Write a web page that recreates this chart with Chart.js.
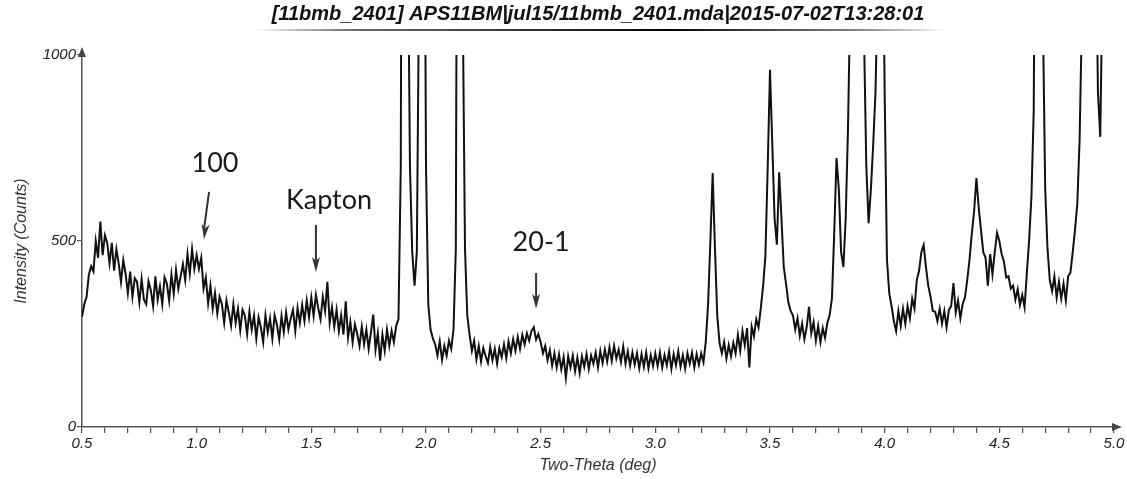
<!DOCTYPE html>
<html>
<head>
<meta charset="utf-8">
<script src="https://cdn.jsdelivr.net/npm/chart.js@4.4.0/dist/chart.umd.min.js"></script>
<style>
  html, body { margin: 0; padding: 0; background: #fff; }
  #wrap { width: 1127px; height: 479px; }
</style>
</head>
<body>
<div id="wrap"><canvas id="xrd" width="1127" height="479"></canvas></div>
<script>
// scan grid (deg two-theta)
const thetaStart = 0.5;
const thetaStep = 0.01;

// counts, one array per half degree
const counts050 = [296,330,350,410,432,418,500,455,552,462, 515,495,440,495,420,478,440,390,448,412,
                   360,418,350,400,390,335,398,342,330,392, 368,325,405,342,378,330,402,385,340,410,
                   358,422,372,405,438,395,465,412,478,425];
const counts100 = [462,425,455,372,402,332,380,318,360,305, 350,330,280,340,308,272,330,280,318,260,
                   315,300,250,310,262,300,238,295,268,228, 300,255,292,238,300,275,235,298,255,308,
                   262,292,315,258,320,280,328,285,340,295];
const counts150 = [348,298,355,320,290,350,312,390,280,322, 270,315,258,300,248,338,240,282,228,276,
                   250,218,270,222,262,210,255,302,208,252, 178,248,205,262,218,258,228,272,290,700,
                   3000,3000,1400,700,470,380,470,1200,3000,2000];
const counts200 = [700,330,262,238,222,192,230,180,218,192, 232,210,262,480,2500,3000,1150,480,300,248,
                   205,232,182,218,176,212,190,172,215,180, 210,170,212,188,222,185,230,198,236,205,
                   242,210,248,222,252,232,258,268,235,250];
const counts250 = [228,198,218,180,206,165,198,160,195,155, 188,132,190,160,192,150,186,145,190,162,
                   196,156,192,170,200,160,204,172,208,176, 214,178,218,184,208,175,216,170,203,165,
                   200,168,198,158,196,162,200,158,193,164];
const counts300 = [198,164,200,160,193,166,203,156,196,166, 203,162,193,157,198,170,200,160,196,167,
                   198,174,230,330,500,683,480,300,225,198, 228,184,220,190,226,198,248,205,258,220,
                   266,160,270,244,290,268,320,380,460,700];
const counts350 = [960,760,560,490,685,560,430,385,335,312, 300,262,292,245,278,236,268,323,252,282,
                   232,272,228,266,240,280,300,345,520,723, 640,470,430,560,800,1150,3000,3000,3000,3000,
                   2000,1050,700,548,640,760,900,1200,3000,1500];
const counts400 = [900,450,360,325,285,258,312,272,318,278, 325,292,345,318,395,420,470,489,430,380,
                   350,312,310,285,318,278,312,268,315,325, 387,308,340,292,330,348,395,450,520,580,
                   669,590,530,470,455,380,465,410,470,522];
const counts450 = [500,465,445,402,405,372,380,342,370,328, 355,322,414,503,620,850,2000,3000,2500,1100,
                   640,480,395,365,405,348,390,345,385,340, 405,415,470,530,600,772,1100,2500,3000,3000,
                   3000,3000,1400,900,780,1200,2500];

const yTicks = [0, 500, 1000];
const noteLabels = ['100', 'Kapton', '20-1'];

const titleText = '[11bmb_2401] APS11BM|jul15/11bmb_2401.mda|2015-07-02T13:28:01';
const xTitle = 'Two-Theta (deg)';
const yTitle = 'Intensity (Counts)';

// where the peak labels sit, in data units
const notes = [
  { text: noteLabels[0], at: [1.08, 710],  from: [1.054, 632], to: [1.032, 505] },
  { text: noteLabels[1], at: [1.577, 610], from: [1.52, 543],  to: [1.52, 417] },
  { text: noteLabels[2], at: [2.502, 497], from: [2.48, 414],  to: [2.48, 318] }
];

const counts = [].concat(counts050, counts100, counts150, counts200, counts250,
                         counts300, counts350, counts400, counts450);
const scan = counts.map((c, i) => ({ x: +(thetaStart + i * thetaStep).toFixed(2), y: c }));

function arrowLine(ctx, x1, y1, x2, y2) {
  ctx.beginPath();
  ctx.moveTo(x1, y1);
  ctx.lineTo(x2, y2 - 10);
  ctx.stroke();
  const ang = Math.atan2(y2 - y1, x2 - x1);
  ctx.beginPath();
  ctx.moveTo(x2, y2);
  ctx.lineTo(x2 - 15 * Math.cos(ang) + 4 * Math.sin(ang), y2 - 15 * Math.sin(ang) - 4 * Math.cos(ang));
  ctx.lineTo(x2 - 11 * Math.cos(ang), y2 - 11 * Math.sin(ang));
  ctx.lineTo(x2 - 15 * Math.cos(ang) - 4 * Math.sin(ang), y2 - 15 * Math.sin(ang) + 4 * Math.cos(ang));
  ctx.closePath();
  ctx.fill();
}

const decor = {
  id: 'decor',
  afterDraw(chart) {
    const ctx = chart.ctx;
    const area = chart.chartArea;
    const xs = chart.scales.x, ys = chart.scales.y;
    const cx = (area.left + area.right) / 2;
    ctx.save();

    // title + fading underline
    ctx.fillStyle = '#111';
    ctx.font = 'italic bold 20px "Liberation Sans", Arial, sans-serif';
    ctx.textAlign = 'center';
    ctx.textBaseline = 'middle';
    ctx.fillText(titleText, cx, 14);
    const g = ctx.createLinearGradient(255, 0, 945, 0);
    g.addColorStop(0, 'rgba(0,0,0,0)');
    g.addColorStop(0.15, 'rgba(40,40,40,0.7)');
    g.addColorStop(0.6, 'rgba(0,0,0,1)');
    g.addColorStop(0.85, 'rgba(60,60,60,0.7)');
    g.addColorStop(1, 'rgba(0,0,0,0)');
    ctx.strokeStyle = g;
    ctx.lineWidth = 2;
    ctx.beginPath();
    ctx.moveTo(255, 30);
    ctx.lineTo(945, 30);
    ctx.stroke();

    // axis arrowheads
    ctx.fillStyle = '#444';
    ctx.beginPath();
    ctx.moveTo(area.left, area.top - 8);
    ctx.lineTo(area.left - 4, area.top + 2);
    ctx.lineTo(area.left + 4, area.top + 2);
    ctx.closePath();
    ctx.fill();
    ctx.beginPath();
    ctx.moveTo(area.right + 8, area.bottom);
    ctx.lineTo(area.right - 2, area.bottom - 4);
    ctx.lineTo(area.right - 2, area.bottom + 4);
    ctx.closePath();
    ctx.fill();

    // axis titles
    ctx.fillStyle = '#333';
    ctx.font = 'italic 16px "Liberation Sans", Arial, sans-serif';
    ctx.fillText(xTitle, cx, 466);
    ctx.save();
    ctx.translate(22, (area.top + area.bottom) / 2);
    ctx.rotate(-Math.PI / 2);
    ctx.fillText(yTitle, 0, 0);
    ctx.restore();

    // peak labels
    ctx.font = '27px Lato, "Open Sans", sans-serif';
    ctx.fillStyle = '#1a1a1a';
    ctx.strokeStyle = '#333';
    ctx.lineWidth = 2;
    notes.forEach(n => {
      ctx.fillText(n.text, xs.getPixelForValue(n.at[0]), ys.getPixelForValue(n.at[1]));
      ctx.fillStyle = '#333';
      arrowLine(ctx, xs.getPixelForValue(n.from[0]), ys.getPixelForValue(n.from[1]),
                xs.getPixelForValue(n.to[0]), ys.getPixelForValue(n.to[1]));
      ctx.fillStyle = '#1a1a1a';
    });
    ctx.restore();
  }
};

const ctx = document.getElementById('xrd').getContext('2d');
new Chart(ctx, {
  type: 'line',
  data: {
    datasets: [{
      data: scan,
      borderColor: '#111',
      borderWidth: 2,
      pointRadius: 0,
      tension: 0,
      fill: false
    }]
  },
  options: {
    responsive: false,
    animation: false,
    devicePixelRatio: 1,
    layout: { padding: { top: 55, right: 13, left: 0, bottom: 0 } },
    plugins: { legend: { display: false }, title: { display: false }, tooltip: { enabled: false } },
    scales: {
      x: {
        type: 'linear',
        min: 0.5,
        max: 5.0,
        afterFit: s => { s.height = 52; },
        afterBuildTicks: s => {
          s.ticks = [];
          for (let k = 5; k <= 50; k++) s.ticks.push({ value: k / 10 });
        },
        ticks: {
          autoSkip: false,
          maxRotation: 0,
          padding: 2,
          color: '#222',
          font: { family: '"Liberation Sans", Arial, sans-serif', size: 15, style: 'italic' },
          callback: v => (Math.round(v * 10) % 5 === 0 ? v.toFixed(1) : '')
        },
        grid: { drawOnChartArea: false, drawTicks: true, tickLength: 6, color: '#555', lineWidth: 1.2 },
        border: { display: true, color: '#555', width: 1.5 }
      },
      y: {
        min: 0,
        max: 1000,
        afterFit: s => { s.width = 82; },
        afterBuildTicks: s => { s.ticks = yTicks.map(v => ({ value: v })); },
        ticks: {
          padding: 1,
          color: '#222',
          font: { family: '"Liberation Sans", Arial, sans-serif', size: 15, style: 'italic' },
          callback: v => String(v)
        },
        grid: { drawOnChartArea: false, drawTicks: true, tickLength: 5, color: '#555', lineWidth: 1.2 },
        border: { display: true, color: '#555', width: 1.5 }
      }
    }
  },
  plugins: [decor]
});
</script>
</body>
</html>
